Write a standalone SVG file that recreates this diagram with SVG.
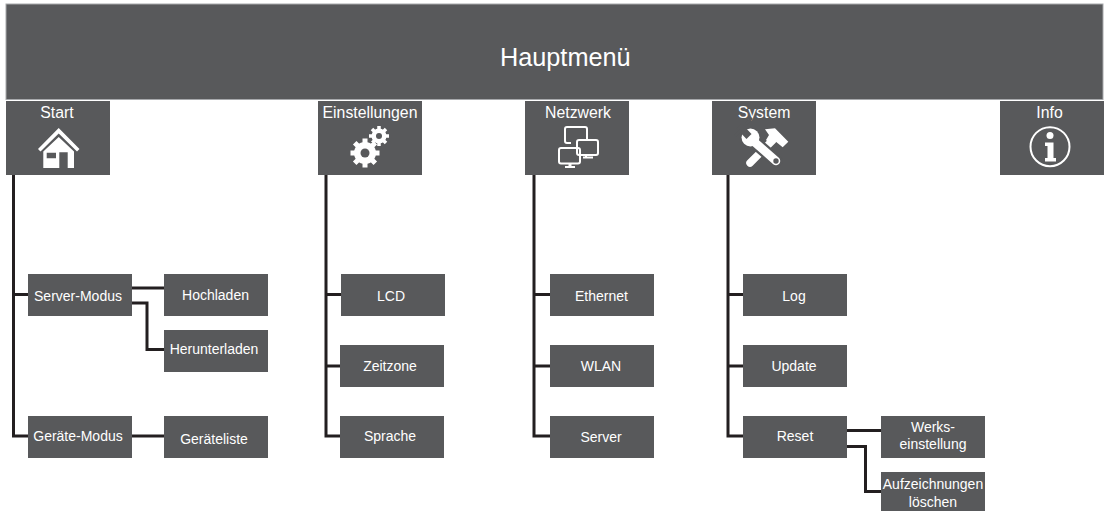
<svg xmlns="http://www.w3.org/2000/svg" width="1104" height="511" viewBox="0 0 1104 511">
<style>
.b{fill:#58595b}
.t{fill:#fff;font-family:"Liberation Sans",Arial,sans-serif;font-size:15.800px;text-anchor:middle}
.s{font-size:14px}
.c{fill:none;stroke:#231f20;stroke-width:3}
.i{fill:#fff}
.o{fill:none;stroke:#fff}
.d{fill:none;stroke:#58595b}
</style>
<rect width="1104" height="511" fill="#fff"/>
<g id="connectors">
<path class="c" d="M13.500 175V436H28M13.500 294.500H28"/>
<path class="c" d="M132 288H164M132 303H147V349.500H164"/>
<path class="c" d="M132 436H164"/>
<path class="c" d="M326 175V436H341M326 294.500H341M326 366H341"/>
<path class="c" d="M534 175V436H550M534 294.500H550M534 366H550"/>
<path class="c" d="M728 175V436H743M728 294.500H743M728 366H743"/>
<path class="c" d="M847 430.500H881M847 446.500H865.500V491.500H881"/>
</g>
<g id="hauptmenue"><rect x="6" y="4" width="1097" height="95.500" class="b" stroke="#a7a9ac" stroke-width="1"/><text class="t" x="565.300" y="66" style="font-size:25.300px">Hauptmenü</text></g>
<g id="start"><rect class="b" x="6" y="101" width="104" height="74"/><text class="t" x="57" y="118">Start</text>
<path class="i" d="M58.700 128L79.500 149L77 151.500L58.700 133.500L40.500 151.500L38 149Z"/>
<path class="i" fill-rule="evenodd" d="M58.700 137L74 151.500V168H67.700V152.300H59.300V168H43.300V151.500ZM46.700 152.700V158.300H56V152.700Z"/></g>
<g id="einstellungen"><rect class="b" x="318" y="101" width="104" height="74"/><text class="t" x="370" y="118">Einstellungen</text>
<circle cx="379" cy="136" r="7.500" class="i"/>
<path class="o" stroke-width="3.500" d="M379 126V146M369 136H389M372 129L386 143M386 129L372 143"/>
<circle cx="379" cy="136" r="3" class="b"/>
<circle cx="365" cy="153" r="13" class="b"/>
<circle cx="365" cy="153" r="11" class="i"/>
<path class="o" stroke-width="5" d="M365 138.500V167.500M350.500 153H379.500M354.700 142.700L375.300 163.300M375.300 142.700L354.700 163.300"/>
<circle cx="365" cy="153" r="4.500" class="b"/></g>
<g id="netzwerk"><rect class="b" x="525" y="101" width="104" height="74"/><text class="t" x="578" y="118">Netzwerk</text>
<path class="o" stroke-width="2" d="M571 143H567Q565 143 565 141V129Q565 127 567 127H585Q587 127 587 129V139"/>
<rect class="o" stroke-width="2" x="577" y="140" width="21" height="15" rx="2"/><path class="o" stroke-width="2" d="M583 157.500H593"/><path class="o" stroke-width="2" d="M586 155.500V157"/>
<rect class="o" stroke-width="2" x="559" y="148" width="21" height="15.500" rx="2"/><path class="o" stroke-width="2" d="M565 167H575M569.500 163.500V166.500M570.500 163.500V166.500"/></g>
<g id="system"><rect class="b" x="712" y="101" width="104" height="74"/><text class="t" x="764" y="118">System</text>
<path class="o" stroke-width="7.500" stroke-linecap="round" d="M750 163L773 140"/>
<path class="i" d="M765 129.300L775 128.300L788.300 141.700L782.700 147.300L775 141L770 144L766 140L769 135Z"/>
<path class="d" stroke-width="13" stroke-linecap="round" d="M751 139L776 161"/>
<circle cx="751" cy="138" r="10" class="b"/>
<path class="o" stroke-width="8.500" stroke-linecap="round" d="M751 139L776 161"/>
<circle cx="750.500" cy="137.500" r="9" class="i"/>
<path class="d" stroke-width="7" d="M749 136.500L739 126"/>
<path class="d" stroke-width="3" d="M741 130L735 136M746 124L752 118"/>
<circle cx="776" cy="161" r="2.700" class="b"/></g>
<g id="info"><rect class="b" x="1000" y="101" width="104" height="74"/><text class="t" x="1049.500" y="118">Info</text>
<circle cx="1050" cy="146.700" r="19.500" class="o" stroke-width="2"/><circle cx="1050" cy="135.500" r="3.500" class="i"/><path class="i" d="M1045 142.500H1053.500V158H1056V161.500H1045V158H1047.500V146H1045Z"/></g>
<g id="server-modus"><rect class="b" x="28" y="274" width="104" height="42"/><text class="t s" x="78" y="301">Server-Modus</text></g>
<g id="hochladen"><rect class="b" x="164" y="274" width="104" height="42"/><text class="t s" x="215.500" y="300">Hochladen</text></g>
<g id="herunterladen"><rect class="b" x="164" y="330" width="104" height="42"/><text class="t s" x="214" y="354">Herunterladen</text></g>
<g id="geraete-modus"><rect class="b" x="28" y="416" width="104" height="42"/><text class="t s" x="78" y="441">Geräte-Modus</text></g>
<g id="geraeteliste"><rect class="b" x="164" y="416" width="104" height="42"/><text class="t s" x="214" y="444">Geräteliste</text></g>
<g id="lcd"><rect class="b" x="341" y="274" width="104" height="42"/><text class="t s" x="391" y="301">LCD</text></g>
<g id="zeitzone"><rect class="b" x="340" y="345" width="104" height="42"/><text class="t s" x="390" y="371">Zeitzone</text></g>
<g id="sprache"><rect class="b" x="340" y="416" width="104" height="42"/><text class="t s" x="390" y="441">Sprache</text></g>
<g id="ethernet"><rect class="b" x="550" y="274" width="104" height="42"/><text class="t s" x="601.500" y="301">Ethernet</text></g>
<g id="wlan"><rect class="b" x="550" y="345" width="104" height="42"/><text class="t s" x="601" y="371">WLAN</text></g>
<g id="server"><rect class="b" x="550" y="416" width="104" height="42"/><text class="t s" x="601" y="442">Server</text></g>
<g id="log"><rect class="b" x="743" y="274" width="104" height="42"/><text class="t s" x="794" y="301">Log</text></g>
<g id="update"><rect class="b" x="743" y="345" width="104" height="42"/><text class="t s" x="794" y="371">Update</text></g>
<g id="reset"><rect class="b" x="743" y="416" width="104" height="42"/><text class="t s" x="795" y="441">Reset</text></g>
<g id="werkseinstellung"><rect class="b" x="881" y="416" width="104" height="42"/><text class="t s" x="933" y="432">Werks-</text><text class="t s" x="933" y="449">einstellung</text></g>
<g id="aufzeichnungen"><rect class="b" x="881" y="472" width="104" height="39"/><text class="t s" x="933" y="489">Aufzeichnungen</text><text class="t s" x="933" y="507">löschen</text></g>
</svg>
